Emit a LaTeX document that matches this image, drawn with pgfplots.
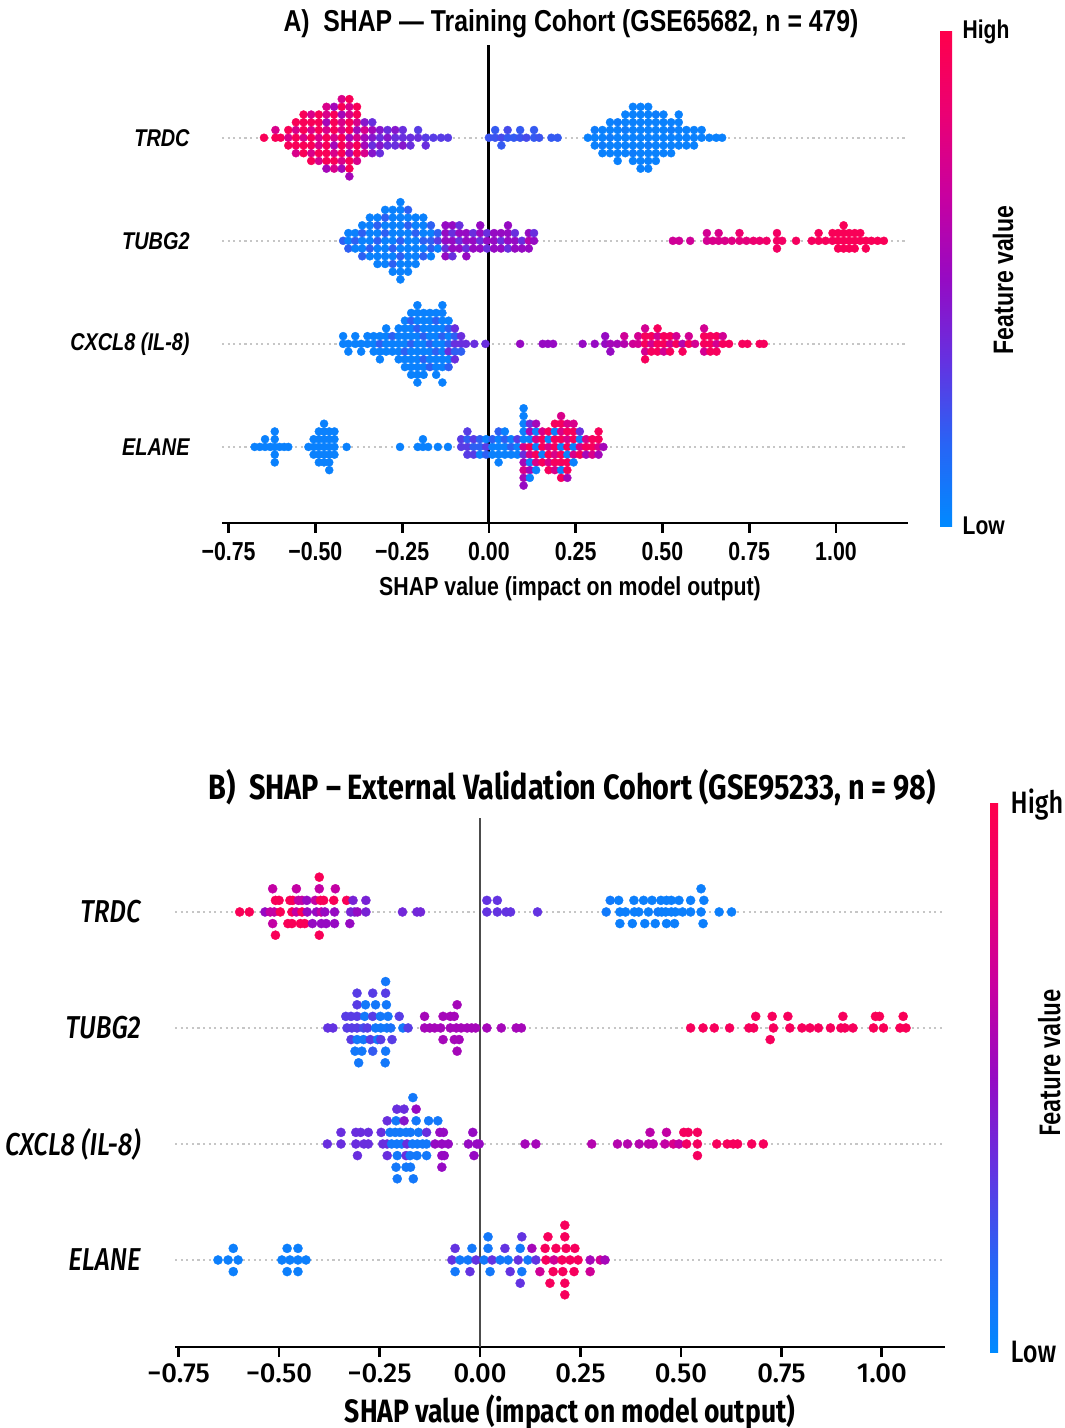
\documentclass[border=0pt]{standalone}
\usepackage{fontspec}
\usepackage{pgfplots}
\pgfplotsset{compat=1.18}
\newfontfamily\fa{Liberation Sans}[FakeStretch=0.82]
\newfontfamily\fb{Fira Sans}[FakeStretch=0.82]
\newfontfamily\fbm{Fira Sans}[FakeStretch=0.82, UprightFont={* Medium}, ItalicFont={* Medium Italic}]
\newfontfamily\fbt{Fira Sans}[UprightFont={* Medium}]

\pgfplotsset{
  colormap={shap}{rgb255=(0,138,255) rgb255=(40,100,245) rgb255=(100,50,225) rgb255=(150,10,195) rgb255=(200,0,160) rgb255=(235,0,115) rgb255=(255,0,75)},
  dotsA/.style={scatter, only marks, mark=*, point meta=explicit, mark size=1.15pt,
    scatter/use mapped color={draw=mapped color, fill=mapped color}, mark options={line width=0.1pt}},
  dotsB/.style={scatter, only marks, mark=*, point meta=explicit, mark size=1.3pt,
    scatter/use mapped color={draw=mapped color, fill=mapped color}, mark options={line width=0.1pt}},
  guide/.style={forget plot, densely dotted, gray!45, line width=0.6pt},
}

\begin{document}
\begin{tikzpicture}
\useasboundingbox (0,0) rectangle (10.65,14.28);

% ---------------- panel A ----------------
\begin{axis}[
  at={(2.22cm,9.05cm)}, anchor=south west, scale only axis,
  width=6.86cm, height=4.78cm,
  xmin=-0.769, xmax=1.2075, ymin=0.262, ymax=4.90,
  axis x line*=bottom, axis y line*=left,
  y axis line style={draw=none}, ytick style={draw=none},
  x axis line style={line width=0.8pt},
  xtick={-0.75,-0.5,-0.25,0,0.25,0.5,0.75,1},
  xticklabels={−0.75,−0.50,−0.25,0.00,0.25,0.50,0.75,1.00},
  xtick align=outside, major tick length=0.1cm,
  xtick style={black, line width=0.8pt},
  xticklabel style={font=\fa\bfseries\fontsize{7.4}{8}\selectfont, yshift=0.03cm},
  ytick={1,2,3,4},
  yticklabels={ELANE, CXCL8 (IL-8), TUBG2, TRDC},
  yticklabel style={font=\fa\bfseries\itshape\fontsize{6.9}{8}\selectfont, xshift=-0.20cm},
  xlabel={SHAP value (impact on model output)},
  xlabel style={font=\fa\bfseries\fontsize{7.4}{8}\selectfont, at={(axis description cs:0.5,0)}, anchor=center, xshift=0.05cm, yshift=-0.66cm},
  title={A)\ \ SHAP — Training Cohort (GSE65682, n = 479)},
  title style={font=\fa\bfseries\fontsize{8.6}{9}\selectfont, at={(axis description cs:0.5,1)}, anchor=center, xshift=0.06cm, yshift=0.0cm},
  colormap name=shap, point meta min=0, point meta max=1,
  colorbar,
  colorbar style={at={(parent axis.south east)}, anchor=south west, xshift=0.02cm, yshift=-0.04cm,
    scale only axis, width=0.12cm, height=4.97cm, ytick=\empty, xtick=\empty, axis line style={draw=none}},
]
\addplot[guide] coordinates {(-0.769,4) (1.2075,4)};
\addplot[guide] coordinates {(-0.769,3) (1.2075,3)};
\addplot[guide] coordinates {(-0.769,2) (1.2075,2)};
\addplot[guide] coordinates {(-0.769,1) (1.2075,1)};

% TRDC
\addplot[dotsA] table[x=x, y expr=4+\thisrow{k}*0.075, meta=c, row sep=\\] {
x k c\\
-0.648 0 .95\\ -0.615 0 .95\\ -0.615 1 .75\\ -0.600 0 .95\\
-0.578 0 .75\\ -0.578 1 .95\\ -0.578 -1 .95\\
-0.556 0 .95\\ -0.556 1 .75\\ -0.556 -1 .95\\ -0.556 2 .95\\ -0.556 -2 .75\\
-0.534 0 .75\\ -0.534 1 .95\\ -0.534 -1 .95\\ -0.534 2 .95\\ -0.534 -2 .95\\ -0.534 3 .95\\
-0.512 0 .95\\ -0.512 1 .75\\ -0.512 -1 .95\\ -0.512 2 .95\\ -0.512 -2 .75\\ -0.512 3 .75\\ -0.512 -3 .95\\
-0.490 0 .75\\ -0.490 1 .95\\ -0.490 -1 .75\\ -0.490 2 .95\\ -0.490 -2 .95\\ -0.490 3 .95\\ -0.490 -3 .75\\
-0.468 0 .95\\ -0.468 1 .75\\ -0.468 -1 .95\\ -0.468 2 .55\\ -0.468 -2 .95\\ -0.468 3 .75\\ -0.468 -3 .95\\ -0.468 4 .75\\ -0.468 -4 .55\\
-0.446 0 .75\\ -0.446 1 .95\\ -0.446 -1 .55\\ -0.446 2 .95\\ -0.446 -2 .75\\ -0.446 3 .95\\ -0.446 -3 .95\\ -0.446 4 .55\\ -0.446 -4 .75\\
-0.424 0 .95\\ -0.424 1 .75\\ -0.424 -1 .95\\ -0.424 2 .75\\ -0.424 -2 .95\\ -0.424 3 .55\\ -0.424 -3 .75\\ -0.424 4 .95\\ -0.424 -4 .55\\ -0.424 5 .75\\
-0.402 0 .55\\ -0.402 1 .95\\ -0.402 -1 .75\\ -0.402 2 .95\\ -0.402 -2 .55\\ -0.402 3 .75\\ -0.402 -3 .95\\ -0.402 4 .75\\ -0.402 -4 .95\\ -0.402 5 .95\\ -0.402 -5 .55\\
-0.380 0 .75\\ -0.380 1 .55\\ -0.380 -1 .95\\ -0.380 2 .75\\ -0.380 -2 .95\\ -0.380 3 .95\\ -0.380 -3 .75\\ -0.380 4 .95\\
-0.358 0 .55\\ -0.358 1 .75\\ -0.358 -1 .55\\ -0.358 2 .45\\ -0.358 -2 .75\\
-0.336 0 .45\\ -0.336 1 .55\\ -0.336 -1 .35\\ -0.336 2 .35\\ -0.336 -2 .45\\
-0.314 0 .35\\ -0.314 1 .45\\ -0.314 -1 .45\\ -0.314 -2 .35\\
-0.292 0 .45\\ -0.292 1 .35\\ -0.292 -1 .35\\
-0.270 0 .35\\ -0.270 1 .45\\ -0.270 -1 .35\\
-0.248 0 .35\\ -0.248 1 .35\\ -0.248 -1 .45\\
-0.226 0 .35\\ -0.226 -1 .35\\ -0.204 0 .35\\ -0.204 1 .3\\ -0.182 0 .3\\ -0.182 -1 .35\\
-0.160 0 .3\\ -0.138 0 .3\\ -0.118 0 .3\\
0.000 0 .22\\ 0.018 0 .22\\ 0.018 1 .2\\ 0.036 0 .25\\ 0.036 -1 .2\\ 0.054 0 .2\\ 0.054 1 .25\\ 0.072 0 .2\\
0.090 0 .22\\ 0.090 1 .2\\ 0.108 0 .25\\ 0.130 0 .2\\ 0.130 1 .2\\ 0.145 0 .22\\ 0.180 0 .2\\ 0.198 0 .2\\
0.285 0 .04\\
0.305 0 .04\\ 0.305 1 .06\\ 0.305 -1 .04\\
0.327 0 .04\\ 0.327 1 .04\\ 0.327 -1 .06\\ 0.327 -2 .04\\
0.349 0 .06\\ 0.349 1 .04\\ 0.349 -1 .04\\ 0.349 2 .04\\ 0.349 -2 .04\\
0.371 0 .04\\ 0.371 1 .04\\ 0.371 -1 .04\\ 0.371 2 .06\\ 0.371 -2 .04\\ 0.371 -3 .04\\
0.393 0 .04\\ 0.393 1 .06\\ 0.393 -1 .04\\ 0.393 2 .04\\ 0.393 -2 .04\\ 0.393 3 .04\\
0.415 0 .04\\ 0.415 1 .04\\ 0.415 -1 .04\\ 0.415 2 .04\\ 0.415 -2 .06\\ 0.415 3 .04\\ 0.415 -3 .04\\ 0.415 4 .04\\
0.437 0 .04\\ 0.437 1 .04\\ 0.437 -1 .04\\ 0.437 2 .04\\ 0.437 -2 .04\\ 0.437 3 .04\\ 0.437 -3 .04\\ 0.437 4 .04\\ 0.437 -4 .04\\
0.459 0 .04\\ 0.459 1 .04\\ 0.459 -1 .06\\ 0.459 2 .04\\ 0.459 -2 .04\\ 0.459 3 .04\\ 0.459 -3 .04\\ 0.459 4 .04\\ 0.459 -4 .04\\
0.481 0 .04\\ 0.481 1 .04\\ 0.481 -1 .04\\ 0.481 2 .04\\ 0.481 -2 .04\\ 0.481 3 .06\\ 0.481 -3 .04\\
0.503 0 .04\\ 0.503 1 .04\\ 0.503 -1 .04\\ 0.503 2 .04\\ 0.503 -2 .04\\ 0.503 3 .04\\
0.525 0 .04\\ 0.525 1 .06\\ 0.525 -1 .04\\ 0.525 2 .04\\ 0.525 -2 .04\\
0.547 0 .04\\ 0.547 1 .04\\ 0.547 -1 .04\\ 0.547 2 .04\\ 0.547 3 .04\\
0.569 0 .04\\ 0.569 1 .04\\ 0.569 -1 .04\\
0.591 0 .04\\ 0.591 1 .04\\ 0.591 -1 .04\\
0.613 0 .04\\ 0.613 1 .04\\ 0.635 0 .04\\ 0.655 0 .04\\ 0.672 0 .04\\
};

% TUBG2
\addplot[dotsA] table[x=x, y expr=3+\thisrow{k}*0.075, meta=c, row sep=\\] {
x k c\\
-0.420 0 .18\\
-0.405 0 .04\\ -0.405 1 .04\\ -0.405 -1 .18\\
-0.385 0 .18\\ -0.385 1 .04\\ -0.385 -1 .04\\
-0.365 0 .04\\ -0.365 1 .18\\ -0.365 -1 .04\\ -0.365 2 .04\\ -0.365 -2 .18\\
-0.343 0 .04\\ -0.343 1 .04\\ -0.343 -1 .18\\ -0.343 2 .04\\ -0.343 -2 .04\\ -0.343 3 .04\\
-0.321 0 .18\\ -0.321 1 .04\\ -0.321 -1 .04\\ -0.321 2 .18\\ -0.321 -2 .04\\ -0.321 3 .04\\ -0.321 -3 .04\\
-0.299 0 .04\\ -0.299 1 .18\\ -0.299 -1 .04\\ -0.299 2 .04\\ -0.299 -2 .04\\ -0.299 3 .18\\ -0.299 -3 .04\\ -0.299 4 .04\\
-0.277 0 .04\\ -0.277 1 .04\\ -0.277 -1 .18\\ -0.277 2 .04\\ -0.277 -2 .04\\ -0.277 3 .04\\ -0.277 -3 .18\\ -0.277 4 .04\\ -0.277 -4 .04\\
-0.255 0 .18\\ -0.255 1 .04\\ -0.255 -1 .04\\ -0.255 2 .04\\ -0.255 -2 .18\\ -0.255 3 .04\\ -0.255 -3 .04\\ -0.255 4 .04\\ -0.255 -4 .04\\ -0.255 5 .04\\ -0.255 -5 .04\\
-0.233 0 .04\\ -0.233 1 .04\\ -0.233 -1 .04\\ -0.233 2 .18\\ -0.233 -2 .04\\ -0.233 3 .04\\ -0.233 -3 .04\\ -0.233 4 .18\\ -0.233 -4 .04\\
-0.211 0 .04\\ -0.211 1 .18\\ -0.211 -1 .04\\ -0.211 2 .04\\ -0.211 -2 .04\\ -0.211 3 .04\\ -0.211 -3 .04\\
-0.189 0 .18\\ -0.189 1 .04\\ -0.189 -1 .04\\ -0.189 2 .04\\ -0.189 -2 .18\\ -0.189 3 .04\\
-0.167 0 .18\\ -0.167 1 .04\\ -0.167 -1 .18\\ -0.167 2 .18\\ -0.167 -2 .04\\
-0.147 0 .3\\ -0.147 1 .18\\ -0.147 -1 .04\\
-0.125 0 .5\\ -0.125 1 .5\\ -0.125 -1 .35\\ -0.125 2 .5\\ -0.125 -2 .5\\
-0.105 0 .5\\ -0.105 1 .35\\ -0.105 -1 .5\\ -0.105 2 .5\\ -0.105 -2 .35\\
-0.085 0 .35\\ -0.085 1 .5\\ -0.085 -1 .5\\ -0.085 2 .35\\
-0.065 0 .5\\ -0.065 1 .5\\ -0.065 -1 .35\\ -0.065 -2 .5\\
-0.045 0 .5\\ -0.045 1 .35\\ -0.045 -1 .5\\
-0.025 0 .35\\ -0.025 1 .5\\ -0.025 -1 .5\\ -0.025 2 .5\\
-0.005 0 .5\\ -0.005 1 .35\\ -0.005 -1 .35\\
0.015 0 .5\\ 0.015 1 .5\\ 0.015 -1 .5\\
0.035 0 .35\\ 0.035 1 .5\\ 0.035 -1 .5\\
0.055 0 .5\\ 0.055 1 .5\\ 0.055 -1 .35\\ 0.055 2 .5\\
0.075 0 .5\\ 0.075 1 .35\\ 0.075 -1 .5\\
0.095 0 .35\\ 0.095 -1 .5\\
0.115 0 .6\\ 0.115 1 .5\\ 0.115 -1 .5\\
0.130 0 .5\\ 0.130 1 .35\\
0.530 0 .7\\ 0.548 0 .7\\ 0.580 0 .7\\ 0.628 0 .72\\ 0.628 1 .72\\ 0.645 0 .75\\ 0.662 0 .75\\ 0.662 1 .75\\
0.680 0 .75\\ 0.700 0 .78\\ 0.722 0 .8\\ 0.722 1 .85\\ 0.742 0 .8\\ 0.762 0 .85\\ 0.780 0 .85\\ 0.800 0 .88\\
0.830 0 .9\\ 0.830 1 .9\\ 0.830 -1 .9\\ 0.845 0 .9\\ 0.885 0 .92\\ 0.930 0 .92\\ 0.950 0 .93\\ 0.950 1 .93\\
0.970 0 .93\\ 0.990 0 .93\\ 0.990 1 .95\\ 1.006 0 .95\\ 1.006 1 .95\\ 1.006 -1 .95\\
1.022 0 .95\\ 1.022 1 .95\\ 1.022 -1 .95\\ 1.022 2 .95\\ 1.038 0 .95\\ 1.038 1 .95\\ 1.038 -1 .95\\
1.054 0 .95\\ 1.054 1 .95\\ 1.054 -1 .95\\ 1.070 0 .95\\ 1.070 1 .95\\ 1.086 0 .95\\ 1.086 -1 .95\\
1.102 0 .95\\ 1.120 0 .95\\ 1.138 0 .95\\
};

% CXCL8
\addplot[dotsA] table[x=x, y expr=2+\thisrow{k}*0.075, meta=c, row sep=\\] {
x k c\\
-0.420 0 .04\\ -0.420 1 .04\\ -0.405 0 .04\\ -0.405 -1 .04\\ -0.385 0 .04\\ -0.385 1 .04\\
-0.368 0 .04\\ -0.368 -1 .04\\ -0.350 0 .04\\ -0.350 1 .04\\
-0.332 0 .04\\ -0.332 1 .04\\ -0.332 -1 .04\\
-0.314 0 .18\\ -0.314 1 .04\\ -0.314 -1 .04\\ -0.314 -2 .04\\
-0.296 0 .04\\ -0.296 1 .04\\ -0.296 -1 .04\\ -0.296 2 .04\\
-0.278 0 .04\\ -0.278 1 .18\\ -0.278 -1 .04\\
-0.260 0 .04\\ -0.260 1 .04\\ -0.260 -1 .04\\ -0.260 2 .04\\ -0.260 -2 .04\\
-0.242 0 .04\\ -0.242 1 .04\\ -0.242 -1 .18\\ -0.242 2 .04\\ -0.242 -2 .04\\ -0.242 3 .04\\ -0.242 -3 .04\\
-0.224 0 .18\\ -0.224 1 .04\\ -0.224 -1 .04\\ -0.224 2 .04\\ -0.224 -2 .04\\ -0.224 3 .18\\ -0.224 -3 .04\\ -0.224 4 .04\\ -0.224 -4 .04\\
-0.206 0 .04\\ -0.206 1 .04\\ -0.206 -1 .04\\ -0.206 2 .18\\ -0.206 -2 .04\\ -0.206 3 .04\\ -0.206 -3 .04\\ -0.206 4 .04\\ -0.206 -4 .04\\ -0.206 5 .04\\ -0.206 -5 .04\\
-0.188 0 .04\\ -0.188 1 .18\\ -0.188 -1 .04\\ -0.188 2 .04\\ -0.188 -2 .18\\ -0.188 3 .04\\ -0.188 -3 .04\\ -0.188 4 .04\\ -0.188 -4 .04\\
-0.170 0 .18\\ -0.170 1 .04\\ -0.170 -1 .04\\ -0.170 2 .04\\ -0.170 -2 .04\\ -0.170 3 .04\\ -0.170 -3 .18\\ -0.170 4 .04\\
-0.152 0 .04\\ -0.152 1 .04\\ -0.152 -1 .18\\ -0.152 2 .04\\ -0.152 -2 .04\\ -0.152 3 .18\\ -0.152 -3 .04\\ -0.152 4 .04\\ -0.152 -4 .04\\
-0.134 0 .04\\ -0.134 1 .18\\ -0.134 -1 .04\\ -0.134 2 .04\\ -0.134 -2 .04\\ -0.134 3 .04\\ -0.134 -3 .04\\ -0.134 4 .04\\ -0.134 5 .04\\ -0.134 -5 .04\\
-0.116 0 .18\\ -0.116 1 .04\\ -0.116 -1 .35\\ -0.116 2 .18\\ -0.116 -2 .04\\ -0.116 3 .04\\ -0.116 -3 .18\\
-0.098 0 .35\\ -0.098 1 .18\\ -0.098 -1 .18\\ -0.098 2 .35\\ -0.098 -2 .35\\
-0.080 0 .35\\ -0.080 1 .35\\ -0.080 -1 .18\\
-0.066 0 .35\\ -0.042 0 .35\\ -0.010 0 .35\\
0.090 0 .5\\ 0.155 0 .5\\ 0.170 0 .5\\ 0.185 0 .5\\ 0.270 0 .5\\ 0.305 0 .5\\
0.335 0 .5\\ 0.335 1 .5\\ 0.350 0 .55\\ 0.350 -1 .5\\ 0.370 0 .55\\ 0.390 0 .6\\ 0.390 1 .7\\
0.415 0 .7\\ 0.430 0 .72\\ 0.430 1 .72\\
0.450 0 .93\\ 0.450 1 .93\\ 0.450 -1 .72\\ 0.450 2 .72\\ 0.450 -2 .93\\
0.468 0 .72\\ 0.468 -1 .93\\ 0.468 1 .93\\
0.486 0 .93\\ 0.486 1 .72\\ 0.486 -1 .93\\ 0.486 2 .93\\
0.504 0 .93\\ 0.504 1 .93\\ 0.504 -1 .72\\
0.522 0 .72\\ 0.522 1 .93\\ 0.522 -1 .93\\
0.540 0 .93\\ 0.540 1 .72\\ 0.558 0 .6\\ 0.558 -1 .93\\ 0.576 0 .93\\ 0.576 1 .72\\ 0.594 0 .72\\
0.620 0 .93\\ 0.620 1 .93\\ 0.620 -1 .72\\ 0.620 2 .72\\
0.638 0 .93\\ 0.638 1 .93\\ 0.638 -1 .93\\
0.656 0 .72\\ 0.656 1 .93\\ 0.656 -1 .93\\
0.674 0 .93\\ 0.674 1 .72\\ 0.692 0 .93\\
0.730 0 .93\\ 0.745 0 .93\\ 0.780 0 .93\\ 0.792 0 .93\\
};

% ELANE
\addplot[dotsA] table[x=x, y expr=1+\thisrow{k}*0.075, meta=c, row sep=\\] {
x k c\\
-0.675 0 .04\\ -0.660 0 .04\\ -0.645 0 .04\\ -0.645 1 .04\\ -0.630 0 .04\\
-0.617 0 .04\\ -0.617 1 .04\\ -0.617 -1 .04\\ -0.617 2 .04\\ -0.617 -2 .04\\
-0.603 0 .04\\ -0.590 0 .04\\ -0.578 0 .04\\
-0.520 0 .04\\ -0.505 0 .04\\ -0.505 1 .04\\ -0.505 -1 .04\\
-0.490 0 .04\\ -0.490 1 .04\\ -0.490 -1 .04\\ -0.490 2 .04\\ -0.490 -2 .04\\
-0.475 0 .04\\ -0.475 1 .04\\ -0.475 -1 .04\\ -0.475 2 .04\\ -0.475 -2 .04\\ -0.475 3 .04\\
-0.460 0 .04\\ -0.460 1 .04\\ -0.460 -1 .04\\ -0.460 2 .04\\ -0.460 -2 .04\\ -0.460 -3 .04\\
-0.445 0 .04\\ -0.445 1 .04\\ -0.445 -1 .04\\ -0.445 2 .04\\
-0.410 0 .04\\
-0.256 0 .04\\ -0.205 0 .04\\ -0.190 0 .04\\ -0.190 1 .04\\ -0.175 0 .04\\ -0.147 0 .04\\ -0.118 0 .04\\
-0.080 0 .3\\ -0.080 1 .3\\
-0.062 0 .3\\ -0.062 1 .18\\ -0.062 -1 .3\\ -0.062 2 .3\\
-0.044 0 .18\\ -0.044 1 .3\\ -0.044 -1 .3\\
-0.026 0 .18\\ -0.026 1 .18\\ -0.026 -1 .04\\
-0.008 0 .3\\ -0.008 1 .04\\ -0.008 -1 .18\\
0.010 0 .04\\ 0.010 1 .18\\ 0.010 -1 .04\\
0.028 0 .04\\ 0.028 1 .04\\ 0.028 -1 .04\\ 0.028 2 .18\\ 0.028 -2 .04\\
0.046 0 .04\\ 0.046 1 .18\\ 0.046 -1 .04\\ 0.046 2 .04\\
0.064 0 .18\\ 0.064 1 .04\\ 0.064 -1 .04\\
0.082 0 .04\\ 0.082 1 .3\\ 0.082 -1 .04\\
0.100 0 .75\\ 0.100 1 .04\\ 0.100 -1 .35\\ 0.100 2 .04\\ 0.100 -2 .55\\ 0.100 3 .04\\ 0.100 -3 .75\\ 0.100 4 .04\\ 0.100 -4 .55\\ 0.100 5 .04\\ 0.100 -5 .5\\
0.118 0 .93\\ 0.118 1 .04\\ 0.118 -1 .75\\ 0.118 2 .55\\ 0.118 -2 .04\\ 0.118 3 .35\\ 0.118 -3 .55\\ 0.118 -4 .04\\
0.136 0 .04\\ 0.136 1 .75\\ 0.136 -1 .93\\ 0.136 2 .04\\ 0.136 -2 .75\\ 0.136 3 .55\\ 0.136 -3 .04\\
0.154 0 .93\\ 0.154 1 .93\\ 0.154 -1 .04\\ 0.154 2 .75\\ 0.154 -2 .93\\
0.172 0 .75\\ 0.172 1 .04\\ 0.172 -1 .93\\ 0.172 2 .93\\ 0.172 -2 .75\\ 0.172 -3 .93\\
0.190 0 .93\\ 0.190 1 .93\\ 0.190 -1 .75\\ 0.190 2 .04\\ 0.190 -2 .93\\ 0.190 3 .93\\ 0.190 -3 .75\\
0.208 0 .04\\ 0.208 1 .93\\ 0.208 -1 .93\\ 0.208 2 .75\\ 0.208 -2 .93\\ 0.208 3 .93\\ 0.208 -3 .04\\ 0.208 4 .75\\ 0.208 -4 .93\\
0.226 0 .93\\ 0.226 1 .75\\ 0.226 -1 .04\\ 0.226 2 .93\\ 0.226 -2 .93\\ 0.226 3 .75\\ 0.226 -3 .93\\ 0.226 -4 .55\\
0.244 0 .04\\ 0.244 1 .93\\ 0.244 -1 .75\\ 0.244 2 .93\\ 0.244 -2 .04\\ 0.244 3 .75\\
0.262 0 .75\\ 0.262 1 .04\\ 0.262 -1 .93\\ 0.262 2 .35\\
0.280 0 .93\\ 0.280 1 .75\\ 0.280 -1 .55\\
0.298 0 .93\\ 0.298 1 .93\\ 0.298 -1 .75\\
0.316 0 .75\\ 0.316 1 .93\\ 0.316 -1 .55\\ 0.316 2 .93\\
0.330 0 .55\\
};
\addplot[forget plot, black, line width=0.9pt] coordinates {(0,0.262) (0,4.90)};
\end{axis}

\node[font=\fa\bfseries\fontsize{7.3}{8}\selectfont, anchor=west, inner sep=0pt] at (9.62,13.96) {High};
\node[font=\fa\bfseries\fontsize{7.3}{8}\selectfont, anchor=west, inner sep=0pt] at (9.62,9.02) {Low};
\node[font=\fa\bfseries\fontsize{8}{9}\selectfont, rotate=90] at (10.03,11.48) {Feature value};

% ---------------- panel B ----------------
\begin{axis}[
  at={(1.75cm,0.81cm)}, anchor=south west, scale only axis,
  width=7.70cm, height=5.29cm,
  xmin=-0.759, xmax=1.157, ymin=0.25, ymax=4.81,
  axis x line*=bottom, axis y line*=left,
  y axis line style={draw=none}, ytick style={draw=none},
  x axis line style={line width=0.8pt},
  xtick={-0.75,-0.5,-0.25,0,0.25,0.5,0.75,1},
  xticklabels={−0.75,−0.50,−0.25,0.00,0.25,0.50,0.75,1.00},
  xtick align=outside, major tick length=0.1cm,
  xtick style={black, line width=0.8pt},
  xticklabel style={font=\fbt\fontsize{7.8}{9}\selectfont, yshift=0.06cm},
  ytick={1,2,3,4},
  yticklabels={ELANE, CXCL8 (IL-8), TUBG2, TRDC},
  yticklabel style={font=\fbm\itshape\fontsize{9.0}{10}\selectfont, xshift=-0.22cm},
  xlabel={SHAP value (impact on model output)},
  xlabel style={font=\fb\bfseries\fontsize{9.2}{10}\selectfont, at={(axis description cs:0.5,0)}, anchor=center, xshift=0.1cm, yshift=-0.65cm},
  title={B)\ \ SHAP – External Validation Cohort (GSE95233, n = 98)},
  title style={font=\fb\bfseries\fontsize{10}{11}\selectfont, at={(axis description cs:0.5,1)}, anchor=center, xshift=0.12cm, yshift=0.09cm},
  colormap name=shap, point meta min=0, point meta max=1,
  colorbar,
  colorbar style={at={(parent axis.south east)}, anchor=south west, xshift=0.15cm, yshift=-0.05cm,
    scale only axis, width=0.08cm, height=5.5cm, ytick=\empty, xtick=\empty, axis line style={draw=none}},
]
\addplot[guide] coordinates {(-0.759,4) (1.157,4)};
\addplot[guide] coordinates {(-0.759,3) (1.157,3)};
\addplot[guide] coordinates {(-0.759,2) (1.157,2)};
\addplot[guide] coordinates {(-0.759,1) (1.157,1)};

% TRDC
\addplot[dotsB] table[x=x, y expr=4+\thisrow{k}*0.1, meta=c, row sep=\\] {
x k c\\
-0.598 0 .95\\ -0.574 0 .95\\ -0.535 0 .5\\ -0.522 0 .65\\ -0.512 0 .65\\ -0.497 0 .95\\ -0.468 0 .95\\ -0.457 0 .65\\
-0.443 0 .95\\ -0.430 0 .5\\ -0.407 0 .5\\ -0.395 0 .65\\ -0.386 0 .5\\ -0.362 0 .5\\ -0.322 0 .4\\ -0.312 0 .4\\
-0.305 0 .5\\ -0.284 0 .4\\ -0.193 0 .38\\ -0.157 0 .38\\ -0.148 0 .38\\
0.017 0 .33\\ 0.043 0 .33\\ 0.065 0 .33\\ 0.076 0 .33\\ 0.143 0 .33\\
0.314 0 .07\\ 0.348 0 .05\\ 0.362 0 .05\\ 0.384 0 .05\\ 0.395 0 .05\\ 0.419 0 .05\\ 0.443 0 .07\\ 0.452 0 .05\\
0.462 0 .05\\ 0.476 0 .05\\ 0.486 0 .05\\ 0.504 0 .05\\ 0.524 0 .05\\ 0.550 0 .05\\ 0.595 0 .05\\ 0.626 0 .05\\
-0.509 1 .95\\ -0.500 1 .95\\ -0.473 1 .95\\ -0.466 1 .95\\ -0.452 1 .65\\ -0.443 1 .65\\ -0.431 1 .5\\ -0.410 1 .65\\
-0.397 1 .95\\ -0.389 1 .95\\ -0.364 1 .95\\ -0.332 1 .95\\ -0.316 1 .4\\ -0.284 1 .4\\ 0.017 1 .33\\ 0.043 1 .33\\
0.324 1 .07\\ 0.345 1 .05\\ 0.383 1 .05\\ 0.407 1 .05\\ 0.428 1 .05\\ 0.450 1 .05\\ 0.464 1 .05\\ 0.476 1 .05\\
0.495 1 .05\\ 0.524 1 .05\\ 0.557 1 .05\\
-0.516 -1 .65\\ -0.478 -1 .95\\ -0.468 -1 .95\\ -0.447 -1 .95\\ -0.436 -1 .95\\ -0.417 -1 .5\\ -0.395 -1 .5\\ -0.383 -1 .5\\
-0.362 -1 .5\\ -0.324 -1 .5\\ 0.348 -1 .05\\ 0.379 -1 .05\\ 0.410 -1 .05\\ 0.436 -1 .05\\ 0.464 -1 .05\\ 0.484 -1 .05\\ 0.555 -1 .05\\
-0.516 2 .65\\ -0.457 2 .65\\ -0.400 2 .65\\ -0.360 2 .65\\ 0.550 2 .05\\
-0.400 3 .95\\ -0.509 -2 .95\\ -0.400 -2 .95\\
};

% TUBG2
\addplot[dotsB] table[x=x, y expr=3+\thisrow{k}*0.1, meta=c, row sep=\\] {
x k c\\
-0.379 0 .33\\ -0.366 0 .33\\ -0.331 0 .3\\ -0.319 0 .3\\ -0.306 0 .3\\ -0.290 0 .25\\ -0.280 0 .3\\ -0.260 0 .08\\
-0.247 0 .08\\ -0.232 0 .08\\ -0.222 0 .1\\ -0.192 0 .08\\ -0.179 0 .3\\
-0.138 0 .55\\ -0.125 0 .55\\ -0.113 0 .55\\ -0.098 0 .55\\ -0.074 0 .55\\ -0.059 0 .55\\ -0.047 0 .55\\ -0.032 0 .55\\
-0.021 0 .55\\ -0.011 0 .55\\ 0.017 0 .55\\ 0.053 0 .55\\ 0.090 0 .55\\ 0.103 0 .55\\
0.524 0 .93\\ 0.555 0 .93\\ 0.583 0 .93\\ 0.621 0 .93\\ 0.669 0 .93\\ 0.681 0 .93\\ 0.730 0 .93\\ 0.771 0 .93\\
0.801 0 .93\\ 0.821 0 .93\\ 0.842 0 .93\\ 0.872 0 .93\\ 0.898 0 .93\\ 0.908 0 .93\\ 0.928 0 .93\\ 0.979 0 .95\\
1.004 0 .95\\ 1.045 0 .95\\ 1.060 0 .95\\
-0.334 1 .3\\ -0.321 1 .3\\ -0.306 1 .3\\ -0.287 1 .08\\ -0.267 1 .3\\ -0.248 1 .08\\ -0.229 1 .08\\ -0.201 1 .3\\
-0.138 1 .55\\ -0.092 1 .55\\ -0.074 1 .55\\ -0.064 1 .55\\
0.686 1 .93\\ 0.727 1 .93\\ 0.766 1 .93\\ 0.903 1 .93\\ 0.984 1 .95\\ 0.994 1 .95\\ 1.053 1 .95\\
-0.306 2 .3\\ -0.285 2 .08\\ -0.260 2 .08\\ -0.233 2 .08\\ -0.057 2 .55\\
-0.306 3 .3\\ -0.267 3 .3\\ -0.235 3 .3\\ -0.235 4 .08\\
-0.321 -1 .3\\ -0.306 -1 .08\\ -0.290 -1 .08\\ -0.273 -1 .3\\ -0.255 -1 .08\\ -0.247 -1 .3\\ -0.219 -1 .3\\
-0.092 -1 .55\\ -0.064 -1 .55\\ -0.052 -1 .55\\ 0.722 -1 .93\\
-0.311 -2 .08\\ -0.294 -2 .08\\ -0.267 -2 .2\\ -0.235 -2 .08\\ -0.057 -2 .55\\
-0.302 -3 .08\\ -0.236 -3 .08\\
};

% CXCL8
\addplot[dotsB] table[x=x, y expr=2+\thisrow{k}*0.1, meta=c, row sep=\\] {
x k c\\
-0.380 0 .35\\ -0.346 0 .35\\ -0.309 0 .35\\ -0.289 0 .35\\ -0.278 0 .35\\ -0.242 0 .35\\ -0.231 0 .35\\ -0.220 0 .08\\
-0.207 0 .08\\ -0.195 0 .08\\ -0.182 0 .35\\ -0.168 0 .08\\ -0.156 0 .08\\ -0.143 0 .08\\ -0.133 0 .08\\
-0.112 0 .5\\ -0.095 0 .5\\ -0.079 0 .5\\ -0.029 0 .5\\ -0.008 0 .5\\ -0.002 0 .5\\
0.112 0 .55\\ 0.139 0 .55\\ 0.278 0 .6\\ 0.342 0 .6\\ 0.367 0 .6\\ 0.396 0 .6\\ 0.419 0 .62\\ 0.431 0 .62\\
0.460 0 .65\\ 0.481 0 .75\\ 0.495 0 .65\\ 0.514 0 .9\\ 0.541 0 .92\\ 0.589 0 .93\\ 0.615 0 .93\\ 0.630 0 .93\\
0.641 0 .93\\ 0.676 0 .93\\ 0.705 0 .93\\
-0.346 1 .35\\ -0.309 1 .35\\ -0.297 1 .35\\ -0.278 1 .35\\ -0.246 1 .35\\ -0.224 1 .08\\ -0.211 1 .08\\ -0.199 1 .08\\
-0.184 1 .08\\ -0.173 1 .08\\ -0.153 1 .08\\ -0.133 1 .35\\ -0.100 1 .5\\ -0.091 1 .5\\ -0.018 1 .5\\
0.423 1 .62\\ 0.464 1 .65\\ 0.507 1 .92\\ 0.518 1 .92\\ 0.541 1 .92\\
-0.231 2 .35\\ -0.209 2 .08\\ -0.189 2 .45\\ -0.159 2 .08\\ -0.128 2 .08\\ -0.105 2 .08\\
-0.207 3 .35\\ -0.189 3 .35\\ -0.159 3 .5\\ -0.167 4 .08\\
-0.305 -1 .35\\ -0.231 -1 .35\\ -0.206 -1 .08\\ -0.184 -1 .35\\ -0.174 -1 .08\\ -0.157 -1 .08\\ -0.133 -1 .08\\
-0.095 -1 .5\\ -0.089 -1 .5\\ -0.015 -1 .5\\ 0.541 -1 .92\\
-0.209 -2 .08\\ -0.184 -2 .08\\ -0.173 -2 .08\\ -0.095 -2 .5\\
-0.206 -3 .08\\ -0.166 -3 .08\\
};

% ELANE
\addplot[dotsB] table[x=x, y expr=1+\thisrow{k}*0.1, meta=c, row sep=\\] {
x k c\\
-0.652 0 .05\\ -0.627 0 .05\\ -0.602 0 .05\\ -0.614 1 .05\\ -0.614 -1 .05\\
-0.493 0 .05\\ -0.473 0 .05\\ -0.453 0 .05\\ -0.433 0 .05\\ -0.480 1 .05\\ -0.453 1 .05\\ -0.480 -1 .05\\ -0.453 -1 .05\\
-0.070 0 .33\\ -0.050 0 .08\\ -0.030 0 .08\\ -0.010 0 .33\\ 0.010 0 .08\\ 0.030 0 .33\\ 0.050 0 .08\\ 0.070 0 .08\\
0.095 0 .33\\ 0.119 0 .08\\ 0.139 0 .33\\ 0.164 0 .93\\ 0.184 0 .7\\ 0.204 0 .93\\ 0.224 0 .93\\ 0.244 0 .93\\
0.274 0 .55\\ 0.299 0 .7\\ 0.311 0 .55\\
-0.062 1 .33\\ -0.020 1 .08\\ 0.020 1 .08\\ 0.062 1 .33\\ 0.100 1 .08\\ 0.129 1 .55\\ 0.162 1 .93\\ 0.189 1 .93\\
0.214 1 .93\\ 0.236 1 .93\\
-0.062 -1 .08\\ -0.025 -1 .33\\ 0.025 -1 .08\\ 0.075 -1 .33\\ 0.104 -1 .08\\ 0.149 -1 .7\\ 0.182 -1 .93\\ 0.206 -1 .93\\
0.234 -1 .93\\ 0.274 -1 .7\\
0.020 2 .08\\ 0.104 2 .33\\ 0.169 2 .93\\ 0.211 2 .93\\
0.100 -2 .33\\ 0.174 -2 .93\\ 0.211 -2 .93\\
0.211 3 .93\\ 0.211 -3 .93\\
};
\addplot[forget plot, black!70, line width=0.8pt] coordinates {(0,0.25) (0,4.81)};
\end{axis}

\node[font=\fbm\fontsize{8.8}{9}\selectfont, anchor=west, inner sep=0pt] at (10.10,6.23) {High};
\node[font=\fbm\fontsize{8.8}{9}\selectfont, anchor=west, inner sep=0pt] at (10.10,0.76) {Low};
\node[font=\fbm\fontsize{8.4}{9}\selectfont, rotate=90] at (10.50,3.65) {Feature value};
\end{tikzpicture}
\end{document}
